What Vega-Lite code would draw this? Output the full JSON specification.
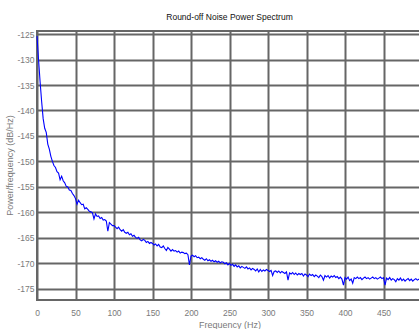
{
  "$schema": "https://vega.github.io/schema/vega-lite/v6.json",
  "autosize": {"type": "none"},
  "padding": {"left": 37, "top": 31, "right": 0, "bottom": 30},
  "width": 385,
  "height": 269,
  "background": "white",
  "title": {
    "text": "Round-off Noise Power Spectrum",
    "font": "Liberation Sans Narrow, Arial Narrow, Liberation Sans, sans-serif",
    "fontSize": 8.5,
    "fontWeight": "normal",
    "color": "#111111",
    "offset": 9
  },
  "config": {
    "view": {"stroke": "#666666", "strokeWidth": 2},
    "axis": {
      "labelFont": "Liberation Sans Narrow, Arial Narrow, Liberation Sans, sans-serif",
      "titleFont": "Liberation Sans, Arial, sans-serif",
      "labelColor": "#7a7a7a",
      "titleColor": "#7a7a7a",
      "labelFontSize": 8.5,
      "titleFontSize": 9,
      "titleFontWeight": "normal",
      "gridColor": "#666666",
      "gridWidth": 2,
      "gridOpacity": 1,
      "domain": false,
      "ticks": false
    }
  },
  "data": {"values": [
    {"f":0,"p":-125.4},{"f":2,"p":-130.0},{"f":4,"p":-134.3},{"f":6,"p":-138.2},{"f":8,"p":-141.6},{"f":10,"p":-143.5},{"f":12,"p":-144.3},{"f":14,"p":-146.6},{"f":16,"p":-147.6},{"f":18,"p":-149.0},
    {"f":20,"p":-150.0},{"f":22,"p":-150.8},{"f":24,"p":-151.2},{"f":26,"p":-152.0},{"f":28,"p":-152.3},{"f":30,"p":-153.6},{"f":32,"p":-152.9},{"f":34,"p":-153.8},{"f":36,"p":-154.2},{"f":38,"p":-154.9},
    {"f":40,"p":-155.0},{"f":42,"p":-155.6},{"f":44,"p":-155.7},{"f":46,"p":-156.3},{"f":48,"p":-156.7},{"f":50,"p":-157.3},{"f":52,"p":-158.4},{"f":54,"p":-157.6},{"f":56,"p":-158.1},{"f":58,"p":-158.5},
    {"f":60,"p":-158.4},{"f":62,"p":-159.3},{"f":64,"p":-159.1},{"f":66,"p":-159.4},{"f":68,"p":-159.8},{"f":70,"p":-159.9},{"f":72,"p":-160.1},{"f":74,"p":-161.3},{"f":76,"p":-160.3},{"f":78,"p":-160.8},
    {"f":80,"p":-160.7},{"f":82,"p":-161.2},{"f":84,"p":-161.0},{"f":86,"p":-161.5},{"f":88,"p":-161.4},{"f":90,"p":-161.7},{"f":92,"p":-163.7},{"f":94,"p":-162.0},{"f":96,"p":-162.3},{"f":98,"p":-162.6},
    {"f":100,"p":-162.6},{"f":102,"p":-162.9},{"f":104,"p":-163.2},{"f":106,"p":-162.9},{"f":108,"p":-163.4},{"f":110,"p":-163.7},{"f":112,"p":-163.4},{"f":114,"p":-163.9},{"f":116,"p":-164.1},{"f":118,"p":-163.9},
    {"f":120,"p":-164.4},{"f":122,"p":-164.2},{"f":124,"p":-164.7},{"f":126,"p":-164.5},{"f":128,"p":-164.9},{"f":130,"p":-165.1},{"f":132,"p":-164.9},{"f":134,"p":-165.4},{"f":136,"p":-165.6},{"f":138,"p":-165.3},
    {"f":140,"p":-165.5},{"f":142,"p":-165.9},{"f":144,"p":-165.7},{"f":146,"p":-166.1},{"f":148,"p":-165.9},{"f":150,"p":-166.1},{"f":152,"p":-166.4},{"f":154,"p":-166.2},{"f":156,"p":-166.6},{"f":158,"p":-166.3},
    {"f":160,"p":-166.8},{"f":162,"p":-166.9},{"f":164,"p":-166.6},{"f":166,"p":-167.1},{"f":168,"p":-167.5},{"f":170,"p":-166.9},{"f":172,"p":-167.2},{"f":174,"p":-167.6},{"f":176,"p":-167.3},{"f":178,"p":-167.6},
    {"f":180,"p":-167.5},{"f":182,"p":-167.8},{"f":184,"p":-167.6},{"f":186,"p":-168.0},{"f":188,"p":-167.8},{"f":190,"p":-167.9},{"f":192,"p":-168.1},{"f":194,"p":-168.0},{"f":196,"p":-168.3},{"f":198,"p":-170.3},
    {"f":200,"p":-168.6},{"f":202,"p":-168.4},{"f":204,"p":-168.7},{"f":206,"p":-168.5},{"f":208,"p":-168.9},{"f":210,"p":-168.8},{"f":212,"p":-169.1},{"f":214,"p":-168.9},{"f":216,"p":-169.2},{"f":218,"p":-169.4},
    {"f":220,"p":-169.1},{"f":222,"p":-169.5},{"f":224,"p":-169.3},{"f":226,"p":-169.6},{"f":228,"p":-169.4},{"f":230,"p":-169.7},{"f":232,"p":-169.5},{"f":234,"p":-169.8},{"f":236,"p":-169.6},{"f":238,"p":-169.9},
    {"f":240,"p":-169.7},{"f":242,"p":-169.8},{"f":244,"p":-170.1},{"f":246,"p":-169.9},{"f":248,"p":-170.3},{"f":250,"p":-170.0},{"f":252,"p":-170.4},{"f":254,"p":-170.2},{"f":256,"p":-170.6},{"f":258,"p":-170.3},
    {"f":260,"p":-170.7},{"f":262,"p":-170.5},{"f":264,"p":-170.9},{"f":266,"p":-170.6},{"f":268,"p":-170.8},{"f":270,"p":-171.0},{"f":272,"p":-170.7},{"f":274,"p":-171.1},{"f":276,"p":-170.9},{"f":278,"p":-171.3},
    {"f":280,"p":-171.0},{"f":282,"p":-171.2},{"f":284,"p":-171.5},{"f":286,"p":-171.1},{"f":288,"p":-171.7},{"f":290,"p":-171.2},{"f":292,"p":-171.6},{"f":294,"p":-171.3},{"f":296,"p":-171.5},{"f":298,"p":-171.2},
    {"f":300,"p":-171.4},{"f":302,"p":-171.6},{"f":304,"p":-171.4},{"f":306,"p":-172.4},{"f":308,"p":-171.6},{"f":310,"p":-171.5},{"f":312,"p":-171.8},{"f":314,"p":-171.5},{"f":316,"p":-171.9},{"f":318,"p":-171.6},
    {"f":320,"p":-171.8},{"f":322,"p":-172.0},{"f":324,"p":-171.7},{"f":326,"p":-173.3},{"f":328,"p":-171.9},{"f":330,"p":-172.1},{"f":332,"p":-171.8},{"f":334,"p":-172.2},{"f":336,"p":-171.9},{"f":338,"p":-172.3},
    {"f":340,"p":-172.0},{"f":342,"p":-172.2},{"f":344,"p":-172.0},{"f":346,"p":-172.5},{"f":348,"p":-172.1},{"f":350,"p":-172.3},{"f":352,"p":-172.6},{"f":354,"p":-172.1},{"f":356,"p":-172.4},{"f":358,"p":-172.2},
    {"f":360,"p":-172.6},{"f":362,"p":-172.3},{"f":364,"p":-172.5},{"f":366,"p":-172.8},{"f":368,"p":-172.3},{"f":370,"p":-172.6},{"f":372,"p":-173.3},{"f":374,"p":-172.4},{"f":376,"p":-172.7},{"f":378,"p":-172.4},
    {"f":380,"p":-172.9},{"f":382,"p":-172.5},{"f":384,"p":-172.7},{"f":386,"p":-172.4},{"f":388,"p":-172.8},{"f":390,"p":-172.6},{"f":392,"p":-173.0},{"f":394,"p":-172.7},{"f":396,"p":-173.1},{"f":398,"p":-174.3},
    {"f":400,"p":-172.8},{"f":402,"p":-173.1},{"f":404,"p":-172.7},{"f":406,"p":-173.4},{"f":408,"p":-173.1},{"f":410,"p":-173.9},{"f":412,"p":-172.8},{"f":414,"p":-173.0},{"f":416,"p":-172.7},{"f":418,"p":-173.0},
    {"f":420,"p":-172.8},{"f":422,"p":-173.2},{"f":424,"p":-172.9},{"f":426,"p":-172.7},{"f":428,"p":-173.0},{"f":430,"p":-172.8},{"f":432,"p":-173.1},{"f":434,"p":-172.9},{"f":436,"p":-172.7},{"f":438,"p":-173.0},
    {"f":440,"p":-172.8},{"f":442,"p":-173.1},{"f":444,"p":-172.9},{"f":446,"p":-172.7},{"f":448,"p":-173.0},{"f":450,"p":-172.8},{"f":452,"p":-174.3},{"f":454,"p":-172.9},{"f":456,"p":-173.2},{"f":458,"p":-172.8},
    {"f":460,"p":-173.3},{"f":462,"p":-173.0},{"f":464,"p":-173.2},{"f":466,"p":-173.6},{"f":468,"p":-173.0},{"f":470,"p":-173.3},{"f":472,"p":-172.9},{"f":474,"p":-173.4},{"f":476,"p":-173.1},{"f":478,"p":-173.5},
    {"f":480,"p":-173.2},{"f":482,"p":-173.0},{"f":484,"p":-173.4},{"f":486,"p":-173.1},{"f":488,"p":-173.5},{"f":490,"p":-173.2},{"f":492,"p":-173.0},{"f":494,"p":-173.3},{"f":496,"p":-173.1},{"f":498,"p":-173.4},
    {"f":500,"p":-173.2}
  ]},
  "mark": {"type": "line", "color": "#0000ff", "strokeWidth": 1.1, "interpolate": "linear"},
  "encoding": {
    "x": {
      "field": "f", "type": "quantitative",
      "scale": {"domain": [0, 500], "nice": false, "zero": false},
      "axis": {
        "title": "Frequency (Hz)",
        "values": [0, 50, 100, 150, 200, 250, 300, 350, 400, 450],
        "labelPadding": 8,
        "titlePadding": 4,
        "labelFlush": false
      }
    },
    "y": {
      "field": "p", "type": "quantitative",
      "scale": {"domain": [-177.2, -124.4], "nice": false, "zero": false},
      "axis": {
        "title": "Power/frequency (dB/Hz)",
        "values": [-125, -130, -135, -140, -145, -150, -155, -160, -165, -170, -175],
        "labelExpr": "'' + datum.value",
        "labelPadding": 3,
        "titleX": -28,
        "titleY": 134,
        "titleBaseline": "middle",
        "titleAngle": 270,
        "labelFlush": false
      }
    }
  }
}
